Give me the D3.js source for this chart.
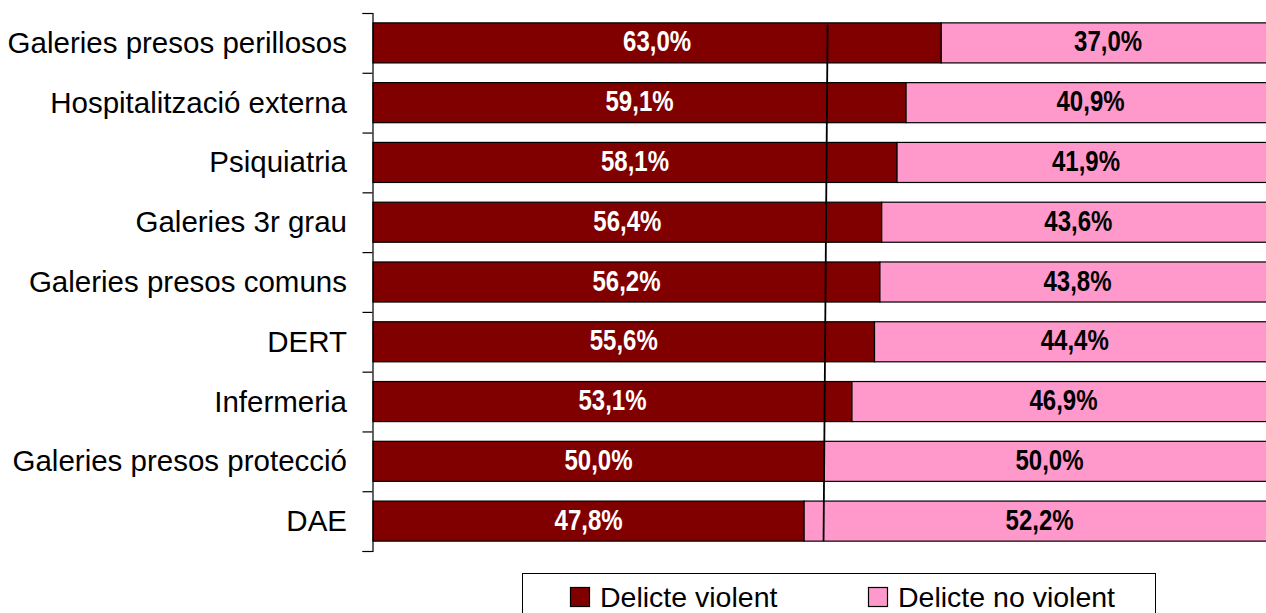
<!DOCTYPE html>
<html>
<head>
<meta charset="utf-8">
<script src="https://cdn.jsdelivr.net/npm/d3@7"></script>
<style>
  html, body { margin: 0; padding: 0; background: #fff; }
  svg { display: block; }
</style>
</head>
<body>
<svg id="chart" width="1266" height="613"></svg>
<script>
const categories = [
  "Galeries presos perillosos",
  "Hospitalització externa",
  "Psiquiatria",
  "Galeries 3r grau",
  "Galeries presos comuns",
  "DERT",
  "Infermeria",
  "Galeries presos protecció",
  "DAE"
];
const violent    = [63.0, 59.1, 58.1, 56.4, 56.2, 55.6, 53.1, 50.0, 47.8];
const nonViolent = [37.0, 40.9, 41.9, 43.6, 43.8, 44.4, 46.9, 50.0, 52.2];
const seriesNames = ["Delicte violent", "Delicte no violent"];
const seriesColors = ["#800000", "#FF99CC"];
const labelColors = ["#FFFFFF", "#000000"];
const refLine = [50.4, 49.95]; // hand-drawn vertical line: value at top, value at bottom

const svg = d3.select("#chart");
svg.append("rect").attr("width", 1266).attr("height", 613).attr("fill", "#fff");

const x = d3.scaleLinear().domain([0, 100]).range([373, 1275]);
const y = d3.scaleBand().domain(categories).range([13, 551])
  .paddingInner(0.33).paddingOuter(0.165);

const fmt = v => v.toFixed(1).replace(".", ",") + "%";

const rows = categories.map((c, i) => ({ c, v: [violent[i], nonViolent[i]] }));

// bars
const g = svg.append("g");
rows.forEach(r => {
  let start = 0;
  r.v.forEach((val, s) => {
    g.append("rect")
      .attr("x", x(start))
      .attr("y", y(r.c))
      .attr("width", x(start + val) - x(start))
      .attr("height", y.bandwidth())
      .attr("fill", seriesColors[s])
      .attr("stroke", "#000")
      .attr("stroke-width", 1.2);
    g.append("text")
      .attr("transform", `translate(${x(start + val / 2)},${y(r.c) + y.bandwidth() / 2 + 8.5}) scale(0.8,1)`)
      .attr("text-anchor", "middle")
      .attr("fill", labelColors[s])
      .attr("font-family", "'Liberation Sans', Arial, sans-serif")
      .attr("font-weight", "bold")
      .attr("font-size", 30)
      .text(fmt(val));
    start += val;
  });
});

// vertical reference line
svg.append("line")
  .attr("x1", x(refLine[0])).attr("y1", y(categories[0]) + 2)
  .attr("x2", x(refLine[1])).attr("y2", y(categories[categories.length - 1]) + y.bandwidth())
  .attr("stroke", "#000").attr("stroke-width", 1.8);

// category axis
const idx = d3.scaleLinear().domain([0, categories.length]).range([13, 551]);
const axis = d3.axisLeft(idx)
  .tickValues(d3.range(0, categories.length + 1))
  .tickSize(10)
  .tickFormat("");
const ax = svg.append("g").attr("transform", "translate(372.5,0)").call(axis);
ax.select(".domain").attr("stroke", "#000").attr("stroke-width", 1.2);
ax.selectAll(".tick line").attr("stroke", "#000").attr("stroke-width", 1.2);

svg.append("g").selectAll("text").data(categories).join("text")
  .attr("x", 347)
  .attr("y", d => y(d) + y.bandwidth() / 2 + 10)
  .attr("text-anchor", "end")
  .attr("font-family", "'Liberation Sans', Arial, sans-serif")
  .attr("font-size", 29.5)
  .attr("fill", "#000")
  .text(d => d);

// legend
const lg = svg.append("g");
lg.append("rect").attr("x", 522.5).attr("y", 573.5).attr("width", 633).attr("height", 55)
  .attr("fill", "#fff").attr("stroke", "#000").attr("stroke-width", 1);
const legendX = [570, 868];
seriesNames.forEach((name, i) => {
  lg.append("rect").attr("x", legendX[i] + 0.5).attr("y", 587.5).attr("width", 19).attr("height", 19)
    .attr("fill", seriesColors[i]).attr("stroke", "#000").attr("stroke-width", 1.2);
  lg.append("text").attr("x", legendX[i] + 30).attr("y", 607)
    .attr("font-family", "'Liberation Sans', Arial, sans-serif")
    .attr("font-size", 28.5).attr("fill", "#000").text(name);
});
</script>
</body>
</html>
